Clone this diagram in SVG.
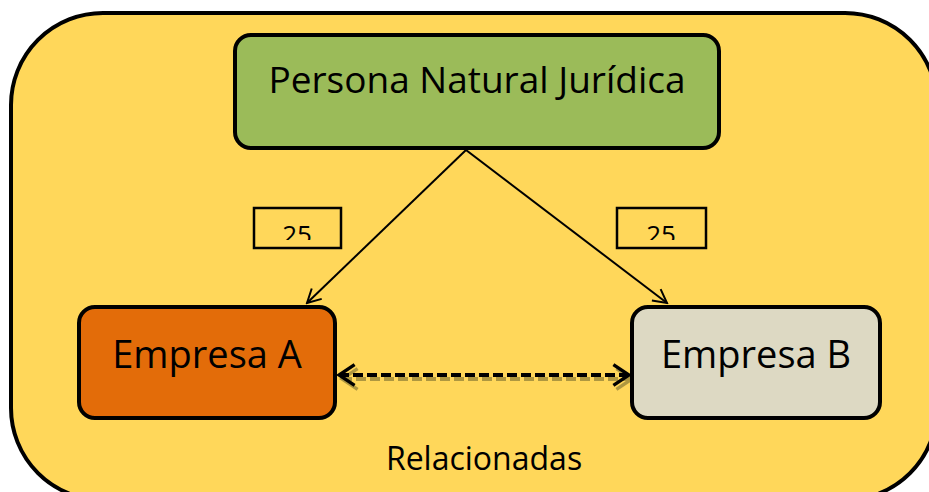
<svg xmlns="http://www.w3.org/2000/svg" width="929" height="492" viewBox="0 0 929 492">
<style>
.box{stroke:#000;stroke-width:4}
.lbl{font-family:"Open Sans","Liberation Sans",sans-serif;fill:#000;text-anchor:middle}
.conn{stroke:#000;stroke-width:2;fill:none}
</style>
<defs>
<marker id="open" viewBox="0 0 20 20" refX="18" refY="10" markerWidth="18" markerHeight="18" markerUnits="userSpaceOnUse" orient="auto">
<path d="M3,2 L18,10 L3,18" fill="none" stroke="#000" stroke-width="2.2"/>
</marker>
<marker id="openD" viewBox="0 0 20 20" refX="18" refY="10" markerWidth="26" markerHeight="26" markerUnits="userSpaceOnUse" orient="auto-start-reverse">
<path d="M6,2 L18,10 L6,18" fill="none" stroke="#000" stroke-width="2.6"/>
</marker>
<marker id="openS" viewBox="0 0 20 20" refX="18" refY="10" markerWidth="26" markerHeight="26" markerUnits="userSpaceOnUse" orient="auto-start-reverse">
<path d="M6,2 L18,10 L6,18" fill="none" stroke="#a08c3c" stroke-width="2.6"/>
</marker>
<clipPath id="c1"><rect x="255" y="209" width="85" height="31"/></clipPath>
<clipPath id="c2"><rect x="618" y="209" width="87" height="31"/></clipPath>
</defs>
<g id="background">
<rect x="11" y="13" width="926" height="487" rx="92" ry="92" fill="#FFD75A" stroke="#000" stroke-width="4"/>
</g>
<g id="connectors">
<line x1="342" y1="379" x2="632" y2="379" stroke="#a08c3c" stroke-width="4" stroke-dasharray="10,4" marker-start="url(#openS)" marker-end="url(#openS)" opacity="0.85"/>
<line x1="339" y1="375" x2="629" y2="375" stroke="#000" stroke-width="4" stroke-dasharray="10,4" marker-start="url(#openD)" marker-end="url(#openD)"/>
<line class="conn" x1="466" y1="150" x2="307" y2="303" marker-end="url(#open)"/>
<line class="conn" x1="466" y1="150" x2="667" y2="303" marker-end="url(#open)"/>
</g>
<g id="node-persona">
<rect class="box" x="235" y="35" width="484" height="113" rx="16" fill="#9BBB59"/>
<text class="lbl" x="477" y="93" font-size="37">Persona Natural Jurídica</text>
</g>
<g id="node-empresa-a">
<rect class="box" x="79" y="307" width="256" height="111" rx="16" fill="#E36C09"/>
<text class="lbl" x="207" y="368" font-size="38">Empresa A</text>
</g>
<g id="node-empresa-b">
<rect class="box" x="632" y="307" width="248" height="111" rx="16" fill="#DDD9C3"/>
<text class="lbl" x="756" y="368" font-size="38">Empresa B</text>
</g>
<g id="label-25-left">
<rect x="254" y="208" width="87" height="40" fill="none" stroke="#000" stroke-width="2.5"/>
<text class="lbl" x="297" y="244" font-size="26" clip-path="url(#c1)">25</text>
</g>
<g id="label-25-right">
<rect x="617" y="208" width="89" height="40" fill="none" stroke="#000" stroke-width="2.5"/>
<text class="lbl" x="661" y="244" font-size="26" clip-path="url(#c2)">25</text>
</g>
<g id="label-relacionadas">
<text class="lbl" x="484" y="470" font-size="32">Relacionadas</text>
</g>
</svg>
